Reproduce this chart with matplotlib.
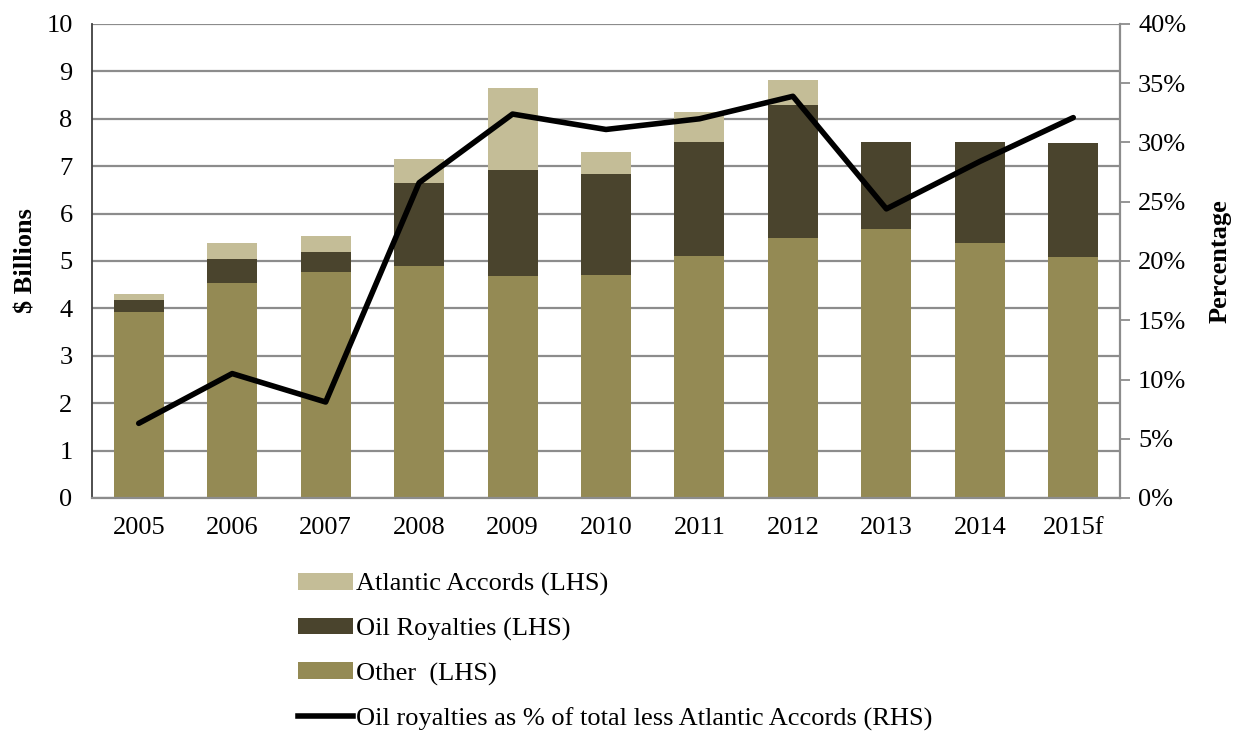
import matplotlib
matplotlib.use("Agg")
import matplotlib.pyplot as plt
import numpy as np
from matplotlib.lines import Line2D
from matplotlib.patches import Patch

years = ["2005", "2006", "2007", "2008", "2009", "2010", "2011", "2012", "2013", "2014", "2015f"]
other = [3.92, 4.53, 4.77, 4.89, 4.68, 4.71, 5.10, 5.49, 5.68, 5.37, 5.08]
oil_royalties = [0.26, 0.52, 0.42, 1.76, 2.24, 2.13, 2.40, 2.80, 1.84, 2.13, 2.40]
atlantic_accords = [0.12, 0.33, 0.34, 0.50, 1.73, 0.46, 0.64, 0.53, 0.0, 0.0, 0.0]
oil_pct = [6.3, 10.5, 8.1, 26.6, 32.4, 31.1, 32.0, 33.9, 24.4, 28.4, 32.1]

left_ticks = [0, 1, 2, 3, 4, 5, 6, 7, 8, 9, 10]
right_ticks = [0, 5, 10, 15, 20, 25, 30, 35, 40]

c_other = "#948A54"
c_oil = "#4A442D"
c_atl = "#C4BD97"
grid_c = "#8C8C8C"

plt.rcParams['font.family'] = ['Liberation Serif', 'DejaVu Serif']
FS = 19

fig = plt.figure(figsize=(12.42, 7.32), dpi=100)
ax = fig.add_axes([92/1242, 1-498/732, (1120-92)/1242, (498-24)/732])
x = np.arange(len(years))
w = 0.535
o = np.array(other)
r = np.array(oil_royalties)
a = np.array(atlantic_accords)
ax.bar(x, o, w, color=c_other, zorder=2)
ax.bar(x, r, w, bottom=o, color=c_oil, zorder=2)
ax.bar(x, a, w, bottom=o + r, color=c_atl, zorder=2)

ax.set_xlim(-0.5, len(years) - 0.5)
ax.set_ylim(0, 10)
ax.set_yticks(left_ticks)
ax.set_yticklabels([str(t) for t in left_ticks], fontsize=FS)
ax.set_xticks(x)
ax.set_xticklabels(years, fontsize=FS)
ax.tick_params(axis='y', length=0, pad=14)
ax.tick_params(axis='x', length=0, pad=14)
ax.yaxis.grid(True, color=grid_c, linewidth=1.6, zorder=0)
ax.set_axisbelow(True)
for s in ['top', 'right']:
    ax.spines[s].set_visible(False)
ax.spines['left'].set_color('#404040')
ax.spines['left'].set_linewidth(1.3)
ax.spines['bottom'].set_color(grid_c)
ax.spines['bottom'].set_linewidth(1.6)
ax.set_ylabel("$ Billions", fontsize=FS, fontweight='bold', labelpad=6)

ax2 = ax.twinx()
ax2.plot(x, oil_pct, color='black', linewidth=4, solid_capstyle='round', zorder=5)
ax2.set_ylim(0, 40)
ax2.set_yticks(right_ticks)
ax2.set_yticklabels([f"{t}%" for t in right_ticks], fontsize=FS)
ax2.tick_params(axis='y', direction='out', length=7, width=1.3, color=grid_c, pad=6)
for s in ['top', 'left', 'bottom']:
    ax2.spines[s].set_visible(False)
ax2.spines['right'].set_color(grid_c)
ax2.spines['right'].set_linewidth(1.6)
ax2.set_ylabel("Percentage", fontsize=FS, fontweight='bold', rotation=90, labelpad=16)

handles = [
    Patch(facecolor=c_atl, label="Atlantic Accords (LHS)"),
    Patch(facecolor=c_oil, label="Oil Royalties (LHS)"),
    Patch(facecolor=c_other, label="Other  (LHS)"),
    Line2D([0], [0], color='black', linewidth=4, label="Oil royalties as % of total less Atlantic Accords (RHS)"),
]
fig.legend(handles=handles, loc='upper left', bbox_to_anchor=(298/1242, 1-573/732),
           frameon=False, fontsize=FS, handlelength=2.1, handleheight=0.6,
           handletextpad=0.1, labelspacing=0.82, borderaxespad=0, borderpad=0)

fig.savefig("out.png", dpi=100)
